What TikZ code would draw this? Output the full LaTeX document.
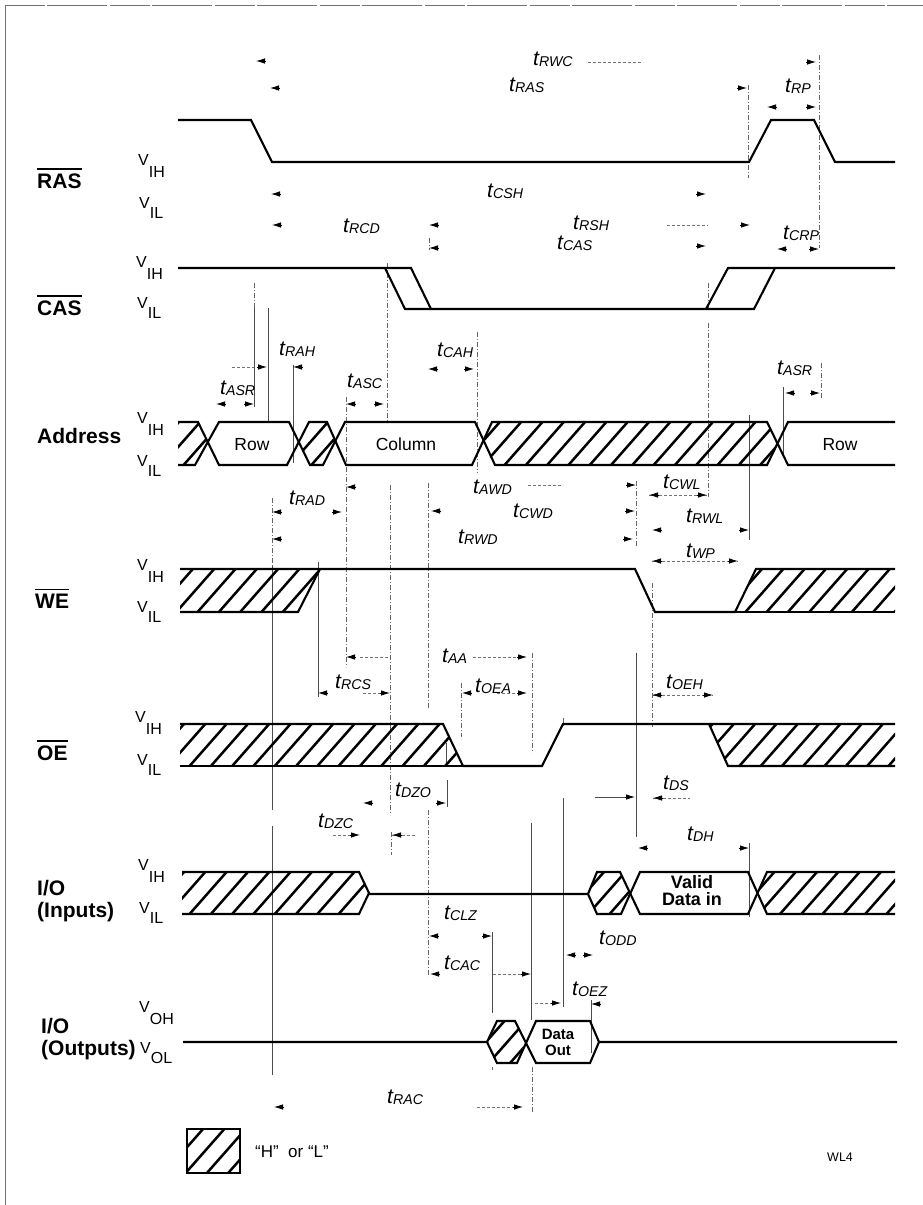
\documentclass[tikz,border=0pt]{standalone}
\usepackage{fontspec}
\setmainfont{Liberation Sans}
\usetikzlibrary{arrows.meta}

\newcommand{\tlab}[1]{\textit{\fontsize{21}{21}\selectfont t\raisebox{-1pt}{\fontsize{14.2}{14}\selectfont #1}}}
\newcommand{\vlab}[2]{\fontsize{16}{16}\selectfont V\raisebox{-#1pt}{#2}}
\newcommand{\hatchfill}[4]{%
  \begin{scope}
    \clip #1;
    \foreach \i in {0,...,40}
      \draw[hatchline] ({#4+21.3*\i},#3) -- ({#4+21.3*\i+0.88*(#3-#2)},#2);
  \end{scope}}

\begin{document}
\begin{tikzpicture}[x=1pt,y=-1pt,
  wave/.style={line width=2.1pt, line join=miter},
  hatchline/.style={line width=2.5pt},
  guide/.style={line width=0.5pt, black!70},
  guidedash/.style={line width=0.5pt, black!60, dash pattern=on 5pt off 2pt on 1pt off 2pt},
  faint/.style={line width=0.4pt, black!55, dash pattern=on 3pt off 2pt},
  tick/.style={-{Latex[length=9pt,width=5.5pt]}, line width=0.8pt, black},
  frameline/.style={line width=0.7pt, black!55},
  barline/.style={line width=1.3pt},
  siglabel/.style={anchor=base west, inner sep=0pt, font=\bfseries\fontsize{21}{22}\selectfont, align=left},
  level/.style={anchor=base west, inner sep=0pt},
  tname/.style={anchor=base west, inner sep=0pt},
  cell/.style={anchor=base, inner sep=0pt, font=\fontsize{17.5}{18}\selectfont},
  cellbold/.style={anchor=base, inner sep=0pt, align=center, font=\bfseries\fontsize{18}{17}\selectfont}
]
\useasboundingbox (0,0) rectangle (923,1205);

\draw[frameline] (5,1205) -- (5,5);
\draw[frameline, dash pattern=on 40pt off 2pt on 60pt off 3pt] (5,5) -- (923,5);

\node[siglabel] (ras) at (37,188) {RAS};
\node[siglabel] (cas) at (37,315) {CAS};
\node[siglabel] (addr) at (37,443) {Address};
\node[siglabel] (we) at (35,608) {WE};
\node[siglabel] (oe) at (37,760) {OE};
\node[siglabel] (ioin) at (37,917) {I/O\\(Inputs)};
\node[siglabel] (ioout) at (41,1055) {I/O\\(Outputs)};
\foreach \n in {ras,cas,we,oe}
  \draw[barline] ([yshift=4pt]\n.north west) -- ([yshift=4pt]\n.north east);

\node[level] (rasih) at (138,165) {\vlab{12}{IH}};
\node[level] (rasil) at (139,208) {\vlab{10}{IL}};
\node[level] (casih) at (136,267) {\vlab{12}{IH}};
\node[level] (casil) at (137,308) {\vlab{10}{IL}};
\node[level] (addrih) at (137,423) {\vlab{12}{IH}};
\node[level] (addril) at (137,466) {\vlab{10}{IL}};
\node[level] (weih) at (137,570) {\vlab{12}{IH}};
\node[level] (weil) at (137,612) {\vlab{10}{IL}};
\node[level] (oeih) at (135,722) {\vlab{12}{IH}};
\node[level] (oeil) at (137,765) {\vlab{10}{IL}};
\node[level] (inih) at (138,870) {\vlab{12}{IH}};
\node[level] (inil) at (139,913) {\vlab{10}{IL}};
\node[level] (outoh) at (139,1012) {\vlab{12}{OH}};
\node[level] (outol) at (140,1053) {\vlab{10}{OL}};

% guide lines
\foreach \gx/\gya/\gyb in {268/308/422, 293/365/463, 272/566/810, 272/826/1075, 318/562/697,
    446/743/765, 447/780/807, 492/932/1013, 531/823/1020, 563/798/1007, 591/1000/1053,
    783/387/457, 749/415/540, 749/843/917, 636/653/837, 254/307/407}
  \draw[guide] (\gx,\gya) -- (\gx,\gyb);
\foreach \gx/\gya/\gyb in {254/283/307, 272/498/566, 346/397/667, 387/263/422, 390/485/815, 391/832/855,
    428/483/708, 428/810/977, 429/238/250, 477/332/473, 461/683/737, 532/653/753, 532/1067/1112,
    563/718/726, 492/1067/1070, 636/481/547, 652/583/727, 708/323/497, 708/283/308,
    748/85/178, 819/55/248, 821/363/398}
  \draw[guidedash] (\gx,\gya) -- (\gx,\gyb);

% dimension pieces
\foreach \dxa/\dxb/\dy in {588/643/62, 232/254/367, 528/563/485, 649/707/495, 652/738/561, 652/713/695,
    360/390/657, 473/518/657, 497/518/693, 363/380/693, 667/708/225, 653/690/798,
    333/350/835, 392/416/835, 493/522/974, 535/552/1003, 477/513/1107}
  \draw[faint] (\dxa,\dy) -- (\dxb,\dy);
\draw[guide] (595,797) -- (626,797);

% arrow tips pointing left
\foreach \ax/\ay in {256/61, 270/88, 271/194, 272/225, 429/225, 429/248, 293/367, 216/404, 428/369,
    346/404, 767/107, 777/249, 785/393, 649/495, 652/530, 652/561, 652/695, 653/798, 638/848,
    346/487, 272/512, 431/511, 272/539, 346/657, 318/693, 462/693, 363/803, 392/835,
    429/936, 430/974, 591/1004, 566/955, 274/1107}
  \draw[tick] (\ax+10,\ay) -- (\ax,\ay);
% arrow tips pointing right
\foreach \ax/\ay in {816/62, 747/88, 816/107, 706/194, 750/225, 706/246, 819/249, 820/393, 254/404, 267/367,
    474/369, 384/404, 636/485, 707/495, 635/511, 633/539, 749/530, 738/561, 527/657, 527/693,
    713/695, 635/797, 749/848, 342/512, 390/693, 446/803, 360/835, 492/936, 531/974, 561/1003,
    593/955, 523/1107}
  \draw[tick] (\ax-10,\ay) -- (\ax,\ay);

% hatched parts
\hatchfill{(178,422) -- (198,422) -- (208,443) -- (195,465) -- (178,465) -- cycle}{422}{465}{141}
\hatchfill{(309,422) -- (327,422) -- (335,443) -- (323,465) -- (310,465) -- (299,443) -- cycle}{422}{465}{141}
\hatchfill{(492,422) -- (767,422) -- (778,443) -- (767,465) -- (495,465) -- (482,443) -- cycle}{422}{465}{142.5}
\hatchfill{(180,569) -- (320,569) -- (298,612) -- (180,612) -- cycle}{569}{612}{155}
\hatchfill{(756,569) -- (895,569) -- (895,612) -- (735,612) -- cycle}{569}{612}{149}
\hatchfill{(180,724) -- (443,724) -- (463,766) -- (180,766) -- cycle}{724}{766}{147}
\hatchfill{(709,724) -- (895,724) -- (895,766) -- (728,766) -- cycle}{724}{766}{143}
\hatchfill{(182,872) -- (359,872) -- (369,893) -- (359,914) -- (182,914) -- cycle}{872}{914}{147}
\hatchfill{(597,872) -- (620,872) -- (631,893) -- (621,914) -- (597,914) -- (588,894) -- cycle}{872}{914}{141}
\hatchfill{(767,872) -- (895,872) -- (895,914) -- (767,914) -- (757,893) -- cycle}{872}{914}{141}
\hatchfill{(497,1021) -- (515,1021) -- (525,1042) -- (517,1063) -- (497,1063) -- (487,1042) -- cycle}{1021}{1063}{148}
\hatchfill{(187,1129) -- (240,1129) -- (240,1173) -- (187,1173) -- cycle}{1129}{1173}{143}

% RAS
\draw[wave] (178,120) -- (251,120) -- (272,162) -- (749,162) -- (771,120) -- (814,120) -- (835,162) -- (895,162);
% CAS
\draw[wave] (178,268) -- (411,268) -- (431,309) -- (706,309) -- (728,268) -- (895,268);
\draw[wave] (385,268) -- (405,309) -- (431,309);
\draw[wave] (706,309) -- (754,309) -- (775,268);
% Address
\draw[wave] (178,422) -- (198,422) -- (219,465) -- (287,465) -- (309,422) -- (327,422) -- (346,465) -- (472,465) -- (492,422) -- (767,422) -- (788,465) -- (895,465);
\draw[wave] (178,465) -- (195,465) -- (219,422) -- (289,422) -- (310,465) -- (323,465) -- (345,422) -- (475,422) -- (495,465) -- (767,465) -- (788,422) -- (895,422);
% WE
\draw[wave] (180,569) -- (635,569) -- (655,612) -- (735,612) -- (756,569) -- (895,569);
\draw[wave] (180,612) -- (298,612) -- (320,569);
\draw[wave] (735,612) -- (895,612);
% OE
\draw[wave] (180,724) -- (443,724) -- (463,766) -- (542,766) -- (563,724) -- (895,724);
\draw[wave] (180,766) -- (463,766);
\draw[wave] (709,724) -- (728,766) -- (895,766);
% I/O inputs
\draw[wave] (182,872) -- (359,872) -- (369,893) -- (359,914) -- (182,914);
\draw[wave] (369,894) -- (588,894) -- (597,872) -- (620,872) -- (640,914) -- (748,914) -- (767,872) -- (895,872);
\draw[wave] (588,894) -- (597,914) -- (621,914) -- (640,872) -- (748,872) -- (767,914) -- (895,914);
% I/O outputs
\draw[wave] (183,1042) -- (487,1042) -- (497,1021) -- (515,1021) -- (536,1063) -- (590,1063) -- (599,1042) -- (897,1042);
\draw[wave] (487,1042) -- (497,1063) -- (517,1063) -- (536,1021) -- (590,1021) -- (599,1042);
% legend box
\draw[wave] (187,1129) rectangle (240,1173);

\node[cell] (row1) at (252,450) {Row};
\node[cell] (col) at (406,450) {Column};
\node[cell] (row2) at (840,450) {Row};
\node[cellbold] (valid) at (692,905) {Valid\\Data in};
\node[cell, font=\bfseries\fontsize{15}{16}\selectfont, align=center] (dout) at (558,1055) {Data\\Out};
\node[level, font=\fontsize{17}{17}\selectfont] (hl) at (255,1157) {“H”\ \ or “L”};
\node[level, font=\fontsize{12.5}{13}\selectfont] (wl) at (827,1161) {WL4};

\node[tname] (trwc) at (533,65) {\tlab{RWC}};
\node[tname] (tras) at (509,91) {\tlab{RAS}};
\node[tname] (trp) at (785,92) {\tlab{RP}};
\node[tname] (tcsh) at (487,197) {\tlab{CSH}};
\node[tname] (trcd) at (343,232) {\tlab{RCD}};
\node[tname] (trsh) at (573,229) {\tlab{RSH}};
\node[tname] (tcas) at (557,249) {\tlab{CAS}};
\node[tname] (tcrp) at (783,239) {\tlab{CRP}};
\node[tname] (trah) at (279,355) {\tlab{RAH}};
\node[tname] (tasr) at (220,394) {\tlab{ASR}};
\node[tname] (tasc) at (347,387) {\tlab{ASC}};
\node[tname] (tcah) at (437,356) {\tlab{CAH}};
\node[tname] (tasrb) at (777,374) {\tlab{ASR}};
\node[tname] (tawd) at (473,493) {\tlab{AWD}};
\node[tname] (tcwl) at (663,488) {\tlab{CWL}};
\node[tname] (trad) at (289,504) {\tlab{RAD}};
\node[tname] (tcwd) at (513,517) {\tlab{CWD}};
\node[tname] (trwd) at (458,543) {\tlab{RWD}};
\node[tname] (trwl) at (686,522) {\tlab{RWL}};
\node[tname] (twp) at (686,557) {\tlab{WP}};
\node[tname] (taa) at (442,662) {\tlab{AA}};
\node[tname] (trcs) at (335,688) {\tlab{RCS}};
\node[tname] (toea) at (475,692) {\tlab{OEA}};
\node[tname] (toeh) at (666,688) {\tlab{OEH}};
\node[tname] (tds) at (663,789) {\tlab{DS}};
\node[tname] (tdzo) at (395,796) {\tlab{DZO}};
\node[tname] (tdzc) at (318,827) {\tlab{DZC}};
\node[tname] (tdh) at (687,840) {\tlab{DH}};
\node[tname] (tclz) at (444,919) {\tlab{CLZ}};
\node[tname] (tcac) at (444,969) {\tlab{CAC}};
\node[tname] (todd) at (599,944) {\tlab{ODD}};
\node[tname] (toez) at (572,995) {\tlab{OEZ}};
\node[tname] (trac) at (387,1103) {\tlab{RAC}};
\end{tikzpicture}
\end{document}
